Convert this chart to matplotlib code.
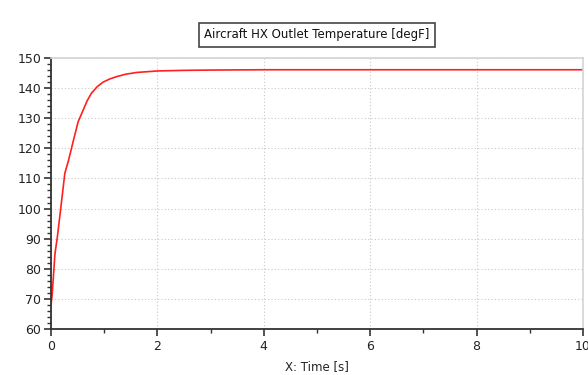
import matplotlib
matplotlib.use("Agg")
import matplotlib.pyplot as plt
from matplotlib.ticker import MultipleLocator

# values
time_s = [0.0, 0.02, 0.04, 0.075, 0.12, 0.18, 0.26, 0.33, 0.42, 0.51, 0.6, 0.68, 0.76,
          0.87, 0.98, 1.1, 1.23, 1.4, 1.61, 2.0, 2.5, 3.0, 4.0, 6.0, 8.0, 10.0]
temp_degF = [68.0, 71.0, 76.0, 85.0, 90.6, 99.5, 111.7, 116.0, 122.5, 128.8, 132.5, 135.8, 138.3,
             140.5, 142.0, 143.0, 143.8, 144.6, 145.2, 145.7, 145.9, 146.0, 146.1, 146.1, 146.1, 146.1]

title_text = "Aircraft HX Outlet Temperature [degF]"
x_label = "X: Time [s]"

plt.rcParams['font.family'] = ['DejaVu Sans']
fig = plt.figure(figsize=(5.88, 3.75), dpi=100, facecolor='white')
ax = fig.add_axes([0.0867, 0.1227, 0.9048, 0.7226])

ax.plot(time_s, temp_degF, color='#ff2020', lw=1.2)

ax.set_xlim(0, 10)
ax.set_ylim(60, 150)
ax.xaxis.set_major_locator(MultipleLocator(2))
ax.xaxis.set_minor_locator(MultipleLocator(1))
ax.yaxis.set_major_locator(MultipleLocator(10))
ax.yaxis.set_minor_locator(MultipleLocator(2))

ax.grid(True, which='major', color='#c8c8c8', ls=(0, (1, 2)), lw=0.8)
for s in ['top', 'right']:
    ax.spines[s].set_color('#d4d4d4')
    ax.spines[s].set_linewidth(1.2)
for s in ['left', 'bottom']:
    ax.spines[s].set_color('#333333')
    ax.spines[s].set_linewidth(1.3)

ax.tick_params(which='major', direction='out', length=5, width=1.2, color='#333333',
               labelsize=9, labelcolor='#222222', pad=2)
ax.tick_params(which='minor', direction='out', length=3, width=1.0, color='#333333')
ax.tick_params(axis='x', which='major', pad=3)

ax.set_xlabel(x_label, fontsize=8.5, color='#222222', labelpad=5)

fig.text(0.539, 0.907, title_text, ha='center', va='center', fontsize=8.5, color='#111111',
         bbox=dict(boxstyle='square,pad=0.45', fc='white', ec='#444444', lw=1.2))

fig.savefig('out.png', dpi=100, facecolor='white')
